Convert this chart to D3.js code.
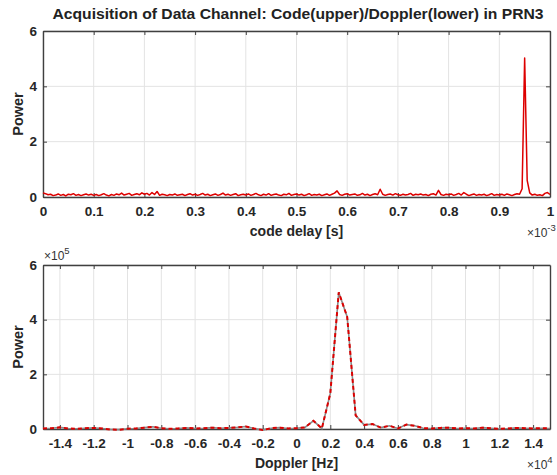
<!DOCTYPE html>
<html>
<head>
<meta charset="utf-8">
<script src="https://cdn.jsdelivr.net/npm/d3@7"></script>
<style>
  body { margin: 0; background: #fff; }
  text { font-family: "Liberation Sans", Arial, sans-serif; font-weight: bold; }
</style>
</head>
<body>
<script>
// chart size
let w = 557;
let h = 475;

// code delay in units of 1e-3 s, 0..1 step 0.005
let codeDelay = d3.range(201).map(i => i * 0.005);

// code correlation power
let codePower = [
    0.15,0.12,0.08,0.1,0.05,0.07,0.11,0.06,0.09,0.04,0.1,0.08,0.12,0.06,0.09,0.05,0.08,0.11,0.07,0.1,
    0.06,0.09,0.05,0.08,0.12,0.07,0.04,0.09,0.06,0.11,0.08,0.14,0.07,0.1,0.13,0.06,0.09,0.12,0.08,0.15,
    0.1,0.13,0.07,0.16,0.09,0.2,0.06,0.1,0.08,0.05,0.09,0.07,0.11,0.06,0.08,0.1,0.05,0.09,0.12,0.07,
    0.1,0.06,0.09,0.13,0.07,0.1,0.05,0.08,0.11,0.06,0.09,0.14,0.07,0.1,0.06,0.09,0.12,0.05,0.08,0.1,
    0.07,0.11,0.06,0.09,0.13,0.08,0.05,0.1,0.07,0.12,0.06,0.09,0.11,0.07,0.05,0.1,0.08,0.13,0.06,0.09,
    0.11,0.07,0.1,0.05,0.08,0.12,0.06,0.09,0.07,0.1,0.05,0.08,0.11,0.06,0.1,0.14,0.22,0.09,0.06,0.1,
    0.12,0.07,0.09,0.11,0.06,0.08,0.13,0.07,0.1,0.05,0.09,0.12,0.08,0.28,0.1,0.06,0.09,0.11,0.07,0.12,
    0.08,0.06,0.1,0.07,0.09,0.13,0.06,0.1,0.08,0.11,0.07,0.09,0.05,0.1,0.12,0.07,0.24,0.09,0.06,0.1,
    0.08,0.11,0.06,0.09,0.13,0.07,0.16,0.1,0.05,0.08,0.11,0.06,0.09,0.07,0.1,0.05,0.08,0.12,0.06,0.09,
    0.07,0.1,0.06,0.11,0.08,0.05,0.09,0.12,0.1,0.3,5.02,0.6,0.15,0.07,0.1,0.06,0.08,0.05,0.13,0.16,0.09
];

// doppler bins in units of 1e4 Hz, -1.5..1.5 step 0.05
let doppler = d3.range(61).map(i => -1.5 + i * 0.05);

// doppler power in units of 1e5
let dopplerPower = [
    0.02,0.03,0.06,0.02,0.01,0.03,0.04,0.02,-0.02,-0.03,
    0.01,0.02,0.05,0.08,0.03,0.01,0.02,0.04,0.02,0.03,
    0.05,0.03,0.04,0.06,0.09,0.02,-0.04,0.03,0.05,0.02,
    0.03,0.06,0.3,0.02,1.3,5.0,4.1,0.5,0.15,0.18,
    0.05,0.12,0.02,0.16,0.12,0.03,0.02,0.04,0.05,0.02,
    0.03,0.02,0.05,0.03,0.01,0.02,0.04,0.03,0.02,0.03,0.02
];

// tick values
let codeTicks = d3.range(11).map(i => i / 10);
let powerTicks = [0, 2, 4, 6];
let dopplerTicks = d3.range(15).map(i => -1.4 + i * 0.2);
let dopplerPowerTicks = [0, 2, 4, 6];

let axisColor = "#404040";
let gridColor = "#e3e3e3";
let red = "#dd0000";

let svg = d3.select("body")
    .append("svg")
    .attr("width", w)
    .attr("height", h);

// title
svg.append("text")
    .attr("x", 298)
    .attr("y", 19)
    .attr("text-anchor", "middle")
    .attr("textLength", 491)
    .attr("lengthAdjust", "spacingAndGlyphs")
    .style("font-size", "14.5px")
    .attr("fill", "#222")
    .text("Acquisition of Data Channel: Code(upper)/Doppler(lower) in PRN3");

// draws one panel: grid, box, ticks, labels
function panel(top, bottom, x, y, xTicks, yTicks, xFmt, xLabel, xExp, yExp) {
    let g = svg.append("g");
    let left = x.range()[0], right = x.range()[1];

    // grid
    g.selectAll(".gx").data(xTicks).enter().append("line")
        .attr("x1", d => x(d)).attr("x2", d => x(d))
        .attr("y1", top).attr("y2", bottom)
        .attr("stroke", gridColor);
    g.selectAll(".gy").data(yTicks).enter().append("line")
        .attr("x1", left).attr("x2", right)
        .attr("y1", d => y(d)).attr("y2", d => y(d))
        .attr("stroke", gridColor);

    let xb = d3.axisBottom(x).tickValues(xTicks).tickFormat(xFmt).tickSize(-4).tickPadding(9).tickSizeOuter(0);
    let xt = d3.axisTop(x).tickValues(xTicks).tickFormat("").tickSize(-4).tickSizeOuter(0);
    let yl = d3.axisLeft(y).tickValues(yTicks).tickFormat(d3.format("d")).tickSize(-4).tickPadding(6).tickSizeOuter(0);
    let yr = d3.axisRight(y).tickValues(yTicks).tickFormat("").tickSize(-4).tickSizeOuter(0);

    let axes = [
        [xb, "translate(0," + bottom + ")"],
        [xt, "translate(0," + top + ")"],
        [yl, "translate(" + left + ",0)"],
        [yr, "translate(" + right + ",0)"]
    ];
    axes.forEach(a => {
        let ag = g.append("g").attr("transform", a[1]).call(a[0]);
        ag.select(".domain").attr("stroke", axisColor).attr("stroke-width", 1.4);
        ag.selectAll(".tick line").attr("stroke", axisColor);
        ag.selectAll("text").style("font-size", "13.5px").attr("fill", "#262626")
            .style("font-family", "'Liberation Sans', Arial, sans-serif");
    });

    // axis labels
    svg.append("text")
        .attr("x", (left + right) / 2)
        .attr("y", bottom + 39)
        .attr("text-anchor", "middle")
        .style("font-size", "14px")
        .attr("fill", "#262626")
        .text(xLabel);
    svg.append("text")
        .attr("transform", "translate(23," + (top + bottom) / 2 + ") rotate(-90)")
        .attr("text-anchor", "middle")
        .style("font-size", "14.5px")
        .attr("fill", "#262626")
        .text("Power");

    // exponent labels
    if (xExp) {
        let t = svg.append("text")
            .attr("x", right - 23)
            .attr("y", bottom + 40)
            .style("font-size", "12px")
            .attr("fill", "#333")
            .style("font-weight", "normal");
        t.append("tspan").text("\u00d710");
        t.append("tspan").attr("dy", -6).style("font-size", "9.5px").text(xExp);
    }
    if (yExp) {
        let t = svg.append("text")
            .attr("x", left + 1)
            .attr("y", top - 5)
            .style("font-size", "12px")
            .attr("fill", "#333")
            .style("font-weight", "normal");
        t.append("tspan").text("\u00d710");
        t.append("tspan").attr("dy", -6).style("font-size", "9.5px").text(yExp);
    }
    return g;
}

// ---- upper panel: code delay ----
let x1 = d3.scaleLinear().domain([0, 1]).range([43, 550]);
let y1 = d3.scaleLinear().domain([0, 6]).range([197, 31]);
panel(31, 197, x1, y1, codeTicks, powerTicks, d => String(+d.toFixed(1)), "code delay [s]", "-3", null);

svg.append("path")
    .datum(codePower)
    .attr("fill", "none")
    .attr("stroke", red)
    .attr("stroke-width", 1.5)
    .attr("stroke-linejoin", "round")
    .attr("d", d3.line()
        .x((d, i) => x1(codeDelay[i]))
        .y(d => y1(d)));

// ---- lower panel: doppler ----
let x2 = d3.scaleLinear().domain([-1.5, 1.5]).range([43, 550]);
let y2 = d3.scaleLinear().domain([0, 6]).range([429, 265]);
panel(265, 429, x2, y2, dopplerTicks, dopplerPowerTicks, d => String(+d.toFixed(1)), "Doppler [Hz]", "4", "5");

let line2 = d3.line()
    .x((d, i) => x2(doppler[i]))
    .y(d => y2(d));

svg.append("path")
    .datum(dopplerPower)
    .attr("fill", "none")
    .attr("stroke", "#8a8a8a")
    .attr("stroke-width", 1.6)
    .attr("d", line2);

svg.append("path")
    .datum(dopplerPower)
    .attr("fill", "none")
    .attr("stroke", red)
    .attr("stroke-width", 2)
    .attr("stroke-dasharray", "4,3")
    .attr("d", line2);
</script>
</body>
</html>
